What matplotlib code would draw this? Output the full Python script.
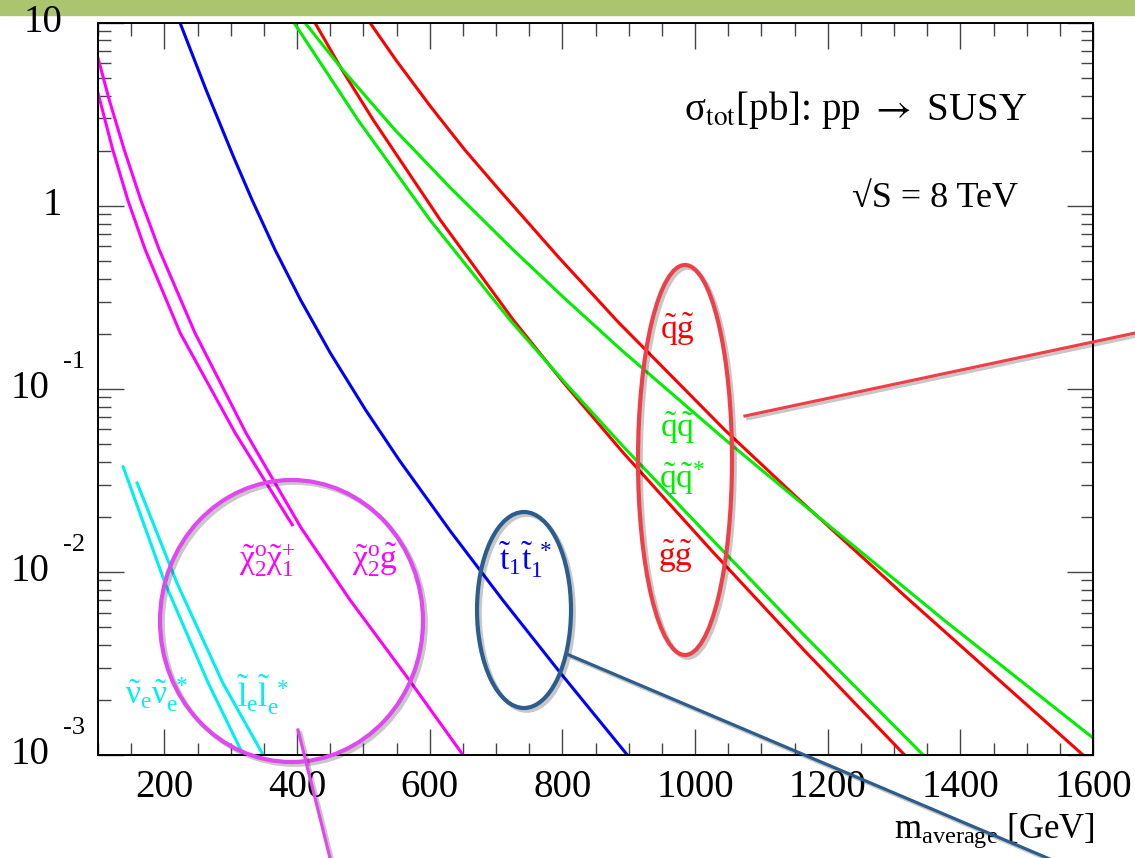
import matplotlib.pyplot as plt
import matplotlib.patheffects as pe
from matplotlib.lines import Line2D
from matplotlib.patches import Ellipse, Rectangle
from matplotlib.ticker import MultipleLocator, NullFormatter, FixedLocator
from matplotlib.transforms import offset_copy

plt.rcParams["font.family"] = ["Liberation Serif", "DejaVu Sans"]
plt.rcParams["mathtext.fontset"] = "custom"
plt.rcParams["mathtext.rm"] = "Liberation Serif"
plt.rcParams["mathtext.it"] = "Liberation Serif:italic"
plt.rcParams["mathtext.bf"] = "Liberation Serif:bold"

W, H = 1135, 858

# sigma_tot [pb] vs m_average [GeV]
qg_mass = [510, 549, 602, 653, 705, 794, 884, 1045, 1154, 1323, 1585]
qg_xsec = [10, 6.26, 3.46, 2.02, 1.22, 0.525, 0.232, 0.0596, 0.0254, 0.00703, 0.001]

qq_mass = [412, 469, 548, 630, 726, 801, 889, 1046, 1155, 1375, 1600]
qq_xsec = [10, 5.52, 2.59, 1.267, 0.574, 0.318, 0.163, 0.0526, 0.0247, 0.00547, 0.00124]

qqbar_mass = [395.5, 492, 600.5, 721, 804, 894, 1026, 1164, 1344]
qqbar_xsec = [10, 2.94, 0.836, 0.238, 0.108, 0.0475, 0.015, 0.00453, 0.001]

gg_mass = [427, 468, 515, 616, 726, 801, 892, 1024, 1164, 1316]
gg_xsec = [10, 5.52, 2.94, 0.836, 0.238, 0.109, 0.0447, 0.0132, 0.00375, 0.001]

t1_mass = [223.6, 263, 304.4, 332.3, 367, 405.4, 450.2, 503.4, 553.9, 632, 710, 797, 898]
t1_xsec = [10, 4.29, 1.847, 1.076, 0.574, 0.306, 0.157, 0.0767, 0.0409, 0.01655,
           0.00703, 0.00281, 0.001]

n2g_mass = [100, 117, 139.6, 164.5, 192.4, 246.2, 323.1, 406.2, 479.9, 565.8, 650.3]
n2g_xsec = [6.42, 3.78, 2.02, 1.076, 0.574, 0.202, 0.0574, 0.0174, 0.00703, 0.00267, 0.001]

n2c1_mass = [100, 122.3, 144.9, 171.3, 223.9, 306.8, 392.8]
n2c1_xsec = [4.13, 2.02, 1.076, 0.574, 0.202, 0.0574, 0.0181]

nu_mass = [138, 201, 266, 319]
nu_xsec = [0.0375, 0.0087, 0.00248, 0.001]

sel_mass = [159, 219, 288, 349]
sel_xsec = [0.0306, 0.0087, 0.00248, 0.001]

x_ticks = [200, 400, 600, 800, 1000, 1200, 1400, 1600]
y_decades = [1e-3, 1e-2, 1e-1, 1, 10]
y_exponents = ["-3", "-2", "-1", None, None]
y_plain = ["10", "10", "10", "1", "10"]


def px(x, y):
    return x / W, 1 - y / H


fig = plt.figure(figsize=(W / 100, H / 100), dpi=100)
ax = fig.add_axes([98 / W, 1 - 755 / H, 995 / W, 732.3 / H])

fig.add_artist(Rectangle((0, 1 - 15 / H), 1, 15 / H, transform=fig.transFigure,
                         color="#abc56f", zorder=-1))

lw = 2.2
ax.plot(qg_mass, qg_xsec, color="#ff0000", lw=lw)
ax.plot(gg_mass, gg_xsec, color="#ff0000", lw=lw)
ax.plot(qq_mass, qq_xsec, color="#00ee00", lw=lw)
ax.plot(qqbar_mass, qqbar_xsec, color="#00ee00", lw=lw)
ax.plot(t1_mass, t1_xsec, color="#0000ff", lw=lw)
ax.plot(n2g_mass, n2g_xsec, color="#ff00ff", lw=lw)
ax.plot(n2c1_mass, n2c1_xsec, color="#ff00ff", lw=lw)
ax.plot(nu_mass, nu_xsec, color="#00f0f0", lw=lw)
ax.plot(sel_mass, sel_xsec, color="#00f0f0", lw=lw)

ax.set_yscale("log")
ax.set_xlim(100, 1600)
ax.set_ylim(1e-3, 10)

ax.xaxis.set_major_locator(FixedLocator(x_ticks))
ax.xaxis.set_minor_locator(MultipleLocator(50))
ax.set_xticklabels([str(v) for v in x_ticks], fontsize=28)
ax.yaxis.set_minor_formatter(NullFormatter())
ax.tick_params(which="both", direction="in", top=True, right=True,
               color="#444444", width=1.0)
ax.tick_params(which="major", length=19)
ax.tick_params(which="minor", length=9)
ax.tick_params(axis="x", pad=10)
ax.tick_params(axis="y", labelleft=False)
for s in ax.spines.values():
    s.set_linewidth(1.4)

# ROOT style y labels: "10" with a raised exponent
ytr = ax.get_yaxis_transform()
for val, base, exp in zip(y_decades, y_plain, y_exponents):
    if exp is None:
        ax.text(-0.036, val, base, transform=ytr, ha="right", va="center",
                fontsize=28)
    else:
        ax.text(-0.049, val, base, transform=ytr, ha="right",
                va="center", fontsize=28)
        ax.text(-0.035, val, exp, ha="left", va="center", fontsize=19,
                transform=offset_copy(ytr, fig=fig, y=27, units="dots"))

ax.text(0.934, 0.867, r"σ$_{\mathrm{tot}}$[pb]: pp $\rightarrow$ SUSY",
        transform=ax.transAxes, ha="right", va="baseline", fontsize=28,
        math_fontfamily="stix")
ax.text(0.925, 0.748, "√S = 8 TeV", transform=ax.transAxes,
        ha="right", va="baseline", fontsize=26)
ax.text(1.002, -0.113, r"m$_{\mathrm{average}}$ [GeV]", transform=ax.transAxes,
        ha="right", va="baseline", fontsize=25)

lab = dict(ha="center", va="center", fontsize=24)
ax.text(973, 0.21, r"$\tilde{\mathrm{q}}\tilde{\mathrm{g}}$", color="#ff0000", **lab)
ax.text(973, 0.0611, r"$\tilde{\mathrm{q}}\tilde{\mathrm{q}}$", color="#00ee00", **lab)
ax.text(980, 0.0326, r"$\tilde{\mathrm{q}}\tilde{\mathrm{q}}^{*}$", color="#00ee00", **lab)
ax.text(971, 0.0122, r"$\tilde{\mathrm{g}}\tilde{\mathrm{g}}$", color="#ff0000", **lab)
ax.text(356, 0.0116, r"$\tilde{\mathrm{\chi}}^{\mathrm{o}}_{2}\tilde{\mathrm{\chi}}^{+}_{1}$",
        color="#ff00ff", **lab)
ax.text(518, 0.0116, r"$\tilde{\mathrm{\chi}}^{\mathrm{o}}_{2}\tilde{\mathrm{g}}$",
        color="#ff00ff", **lab)
ax.text(744, 0.0116, r"$\tilde{\mathrm{t}}_{1}\tilde{\mathrm{t}}_{1}^{\ *}$",
        color="#0000ff", **lab)
ax.text(189, 0.00213, r"$\tilde{\mathrm{\nu}}_{\mathrm{e}}\tilde{\mathrm{\nu}}_{\mathrm{e}}^{\ *}$",
        color="#00f0f0", **lab)
ax.text(349, 0.00213, r"$\tilde{\mathrm{l}}_{\mathrm{e}}\tilde{\mathrm{l}}_{\mathrm{e}}^{\ *}$",
        color="#00f0f0", **lab)

# hand-drawn highlight ellipses and pointer lines
shadow = [pe.SimpleLineShadow(offset=(2, -2), shadow_color="k", alpha=0.22),
          pe.Normal()]
ellipses = [((291.5, 621), 263, 282, "#e048f0"),
            ((524, 610), 94, 196, "#2c5d8c"),
            ((685, 460), 94, 390, "#ee4048")]
for (cx, cy), w, h, c in ellipses:
    e = Ellipse(px(cx, cy), w / W, h / H, transform=fig.transFigure,
                fill=False, edgecolor=c, lw=3, zorder=5)
    e.set_path_effects(shadow)
    fig.add_artist(e)

pointers = [((745, 416), (1140, 332), "#ee4048"),
            ((569, 655), (1052, 860), "#2c5d8c"),
            ((298, 730), (331, 862), "#e048f0")]
for (x0, y0), (x1, y1), c in pointers:
    a, b = px(x0, y0), px(x1, y1)
    ln = Line2D([a[0], b[0]], [a[1], b[1]], transform=fig.transFigure,
                color=c, lw=2.3, zorder=5)
    ln.set_path_effects(shadow)
    fig.add_artist(ln)

fig.savefig("out.png", dpi=100)
